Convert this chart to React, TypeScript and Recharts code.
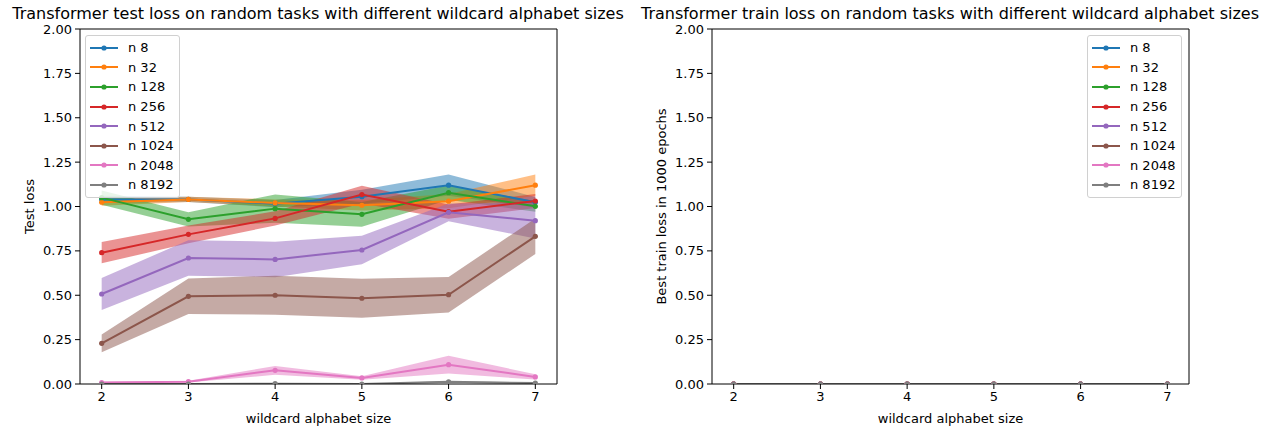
import React from "react";
import {
  ComposedChart,
  Line,
  Area,
  XAxis,
  YAxis,
  Legend,
  ReferenceLine,
} from "recharts";

const alphabetSizes = [2, 3, 4, 5, 6, 7];
const seriesNames = ["n 8", "n 32", "n 128", "n 256", "n 512", "n 1024", "n 2048", "n 8192"];
const colors = ["#1f77b4", "#ff7f0e", "#2ca02c", "#d62728", "#9467bd", "#8c564b", "#e377c2", "#7f7f7f"];
const yTicks = [0, 0.25, 0.5, 0.75, 1, 1.25, 1.5, 1.75, 2];

// test loss means
const testN8 = [1.04, 1.04, 1.016, 1.055, 1.12, 1.024];
const testN32 = [1.024, 1.04, 1.02, 1.007, 1.03, 1.12];
const testN128 = [1.05, 0.928, 0.988, 0.956, 1.078, 1.001];
const testN256 = [0.74, 0.843, 0.933, 1.067, 0.971, 1.031];
const testN512 = [0.507, 0.71, 0.702, 0.755, 0.967, 0.92];
const testN1024 = [0.229, 0.494, 0.5, 0.483, 0.503, 0.832];
const testN2048 = [0.008, 0.013, 0.077, 0.034, 0.109, 0.04];
const testN8192 = [0, 0, 0.002, 0, 0.012, 0.005];

// half-width of the shaded band
const spreadN8 = [0.02, 0.015, 0.02, 0.04, 0.06, 0.03];
const spreadN32 = [0.02, 0.015, 0.02, 0.03, 0.04, 0.06];
const spreadN128 = [0.04, 0.04, 0.08, 0.07, 0.04, 0.03];
const spreadN256 = [0.06, 0.05, 0.04, 0.05, 0.04, 0.04];
const spreadN512 = [0.09, 0.1, 0.1, 0.08, 0.05, 0.1];
const spreadN1024 = [0.05, 0.1, 0.11, 0.11, 0.1, 0.1];
const spreadN2048 = [0.004, 0.005, 0.025, 0.01, 0.05, 0.015];
const spreadN8192 = [0, 0, 0.002, 0, 0.005, 0.003];

// train loss (all converged to 0)
const trainN8 = [0, 0, 0, 0, 0, 0];
const trainN32 = [0, 0, 0, 0, 0, 0];
const trainN128 = [0, 0, 0, 0, 0, 0];
const trainN256 = [0, 0, 0, 0, 0, 0];
const trainN512 = [0, 0, 0, 0, 0, 0];
const trainN1024 = [0, 0, 0, 0, 0, 0];
const trainN2048 = [0, 0, 0, 0, 0, 0];
const trainN8192 = [0, 0, 0, 0, 0, 0];

const testMeans = [testN8, testN32, testN128, testN256, testN512, testN1024, testN2048, testN8192];
const testSpreads = [spreadN8, spreadN32, spreadN128, spreadN256, spreadN512, spreadN1024, spreadN2048, spreadN8192];
const trainMeans = [trainN8, trainN32, trainN128, trainN256, trainN512, trainN1024, trainN2048, trainN8192];
const trainSpreads = trainMeans.map((m) => m.map(() => 0));

function buildRows(means: number[][], spreads: number[][]) {
  return alphabetSizes.map((x, i) => {
    const row: any = { x };
    means.forEach((m, s) => {
      row[`m${s}`] = m[i];
      row[`b${s}`] = [Math.max(0, m[i] - spreads[s][i]), m[i] + spreads[s][i]];
    });
    return row;
  });
}

const testRows = buildRows(testMeans, testSpreads);
const trainRows = buildRows(trainMeans, trainSpreads);

const FONT = "DejaVu Sans, sans-serif";
const tickStyle = { fontSize: 13, fill: "#000", fontFamily: FONT };

function LegendBox() {
  return (
    <div
      style={{
        border: "1px solid #d0d0d0",
        borderRadius: 3,
        background: "rgba(255,255,255,0.8)",
        padding: "2px 8px 2px 3px",
        fontFamily: FONT,
        fontSize: 13,
        whiteSpace: "nowrap",
        width: 82,
      }}
    >
      {seriesNames.map((name, s) => (
        <div key={name} style={{ display: "flex", alignItems: "center", height: 19.6 }}>
          <svg width={30} height={10} style={{ marginRight: 9, flex: "none" }}>
            <line x1={1} y1={5} x2={29} y2={5} stroke={colors[s]} strokeWidth={2} />
            <circle cx={15} cy={5} r={2.6} fill={colors[s]} />
          </svg>
          <span>{name}</span>
        </div>
      ))}
    </div>
  );
}

function Panel(props: {
  rows: any[];
  title: string;
  yLabel: string;
  left: number;
  legendLeft: number;
}) {
  const { rows, title, yLabel, left, legendLeft } = props;
  return (
    <div style={{ position: "absolute", left, top: 0, width: 641, height: 428 }}>
      <div
        style={{
          position: "absolute",
          left: 318,
          top: 4,
          transform: "translateX(-50%)",
          fontFamily: FONT,
          fontSize: 16,
          whiteSpace: "nowrap",
        }}
      >
        {title}
      </div>
      <ComposedChart width={641} height={428} data={rows} margin={{ top: 29, right: 84, bottom: 0, left: 0 }}>
        <XAxis
          dataKey="x"
          type="number"
          domain={[1.75, 7.25]}
          ticks={alphabetSizes}
          height={44}
          tickSize={5}
          tickMargin={3}
          tick={tickStyle}
          stroke="#000"
          label={{ value: "wildcard alphabet size", position: "insideBottom", offset: 5, style: { ...tickStyle } }}
        />
        <YAxis
          domain={[0, 2]}
          allowDataOverflow
          ticks={yTicks}
          width={80}
          tickSize={5}
          tickMargin={3}
          tick={tickStyle}
          stroke="#000"
          tickFormatter={(v: number) => v.toFixed(2)}
          label={{ value: yLabel, angle: -90, position: "insideLeft", offset: 29, style: { ...tickStyle, textAnchor: "middle" } }}
        />
        <ReferenceLine y={2} stroke="#000" strokeWidth={1} />
        <ReferenceLine x={7.25} stroke="#000" strokeWidth={1} />
        {seriesNames.map((name, s) => [
          <Line
            key={`l${s}`}
            dataKey={`m${s}`}
            name={name}
            type="linear"
            stroke={colors[s]}
            strokeWidth={2}
            dot={{ r: 2.6, fill: colors[s], stroke: "none" }}
            isAnimationActive={false}
          />,
          <Area
            key={`a${s}`}
            dataKey={`b${s}`}
            type="linear"
            fill={colors[s]}
            fillOpacity={0.5}
            stroke="none"
            legendType="none"
            isAnimationActive={false}
          />,
        ])}
        <Legend
          layout="vertical"
          align="center"
          verticalAlign="middle"
          content={<LegendBox />}
          wrapperStyle={{ left: legendLeft, top: 35, width: "auto" }}
        />
      </ComposedChart>
    </div>
  );
}

export default function App() {
  return (
    <div style={{ position: "absolute", left: 0, top: 0, width: 1273, height: 428, background: "#fff" }}>
      <Panel
        rows={testRows}
        title="Transformer test loss on random tasks with different wildcard alphabet sizes"
        yLabel="Test loss"
        left={0}
        legendLeft={85}
      />
      <Panel
        rows={trainRows}
        title="Transformer train loss on random tasks with different wildcard alphabet sizes"
        yLabel="Best train loss in 1000 epochs"
        left={632}
        legendLeft={455}
      />
    </div>
  );
}
